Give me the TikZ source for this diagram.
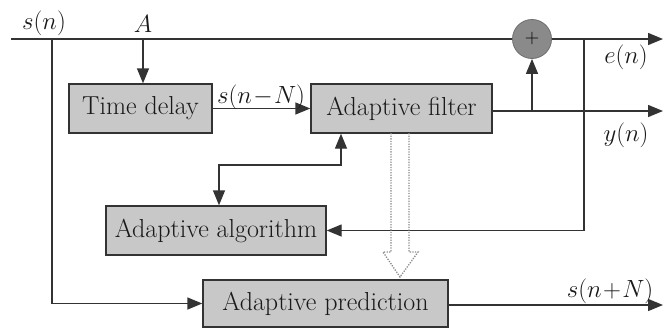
\documentclass[tikz,border=0pt]{standalone}
\usetikzlibrary{arrows.meta,calc}
\definecolor{boxfill}{HTML}{C8C8C8}
\definecolor{linec}{HTML}{333333}
\definecolor{sumfill}{HTML}{8A8A8A}
\definecolor{dotc}{HTML}{8C8C8C}
\begin{document}
\begin{tikzpicture}[x=1pt,y=-1pt,
  blk/.style={draw=linec,line width=1.4pt,fill=boxfill,minimum height=49pt,inner sep=0pt,text=black!90,font=\rmfamily\fontsize{26}{30}\selectfont},
  conn/.style={draw=linec,line width=1.4pt},
  arr/.style={conn,-{Triangle[length=15pt,width=12pt]}},
  lbl/.style={font=\rmfamily\fontsize{24}{28}\selectfont,inner sep=0pt,text=black!90}]
\useasboundingbox (0,0) rectangle (663,332);
\fill[white] (0,0) rectangle (663,332);
% blocks
\node[blk,minimum width=143pt] (td) at (140.5,108.5) {Time delay};
\node[blk,minimum width=181pt] (af) at (401.5,108.5) {Adaptive filter};
\node[blk,minimum width=220pt] (aa) at (216,230.5) {Adaptive algorithm};
\node[blk,minimum width=245pt,minimum height=47pt] (ap) at (325.5,303.5) {Adaptive prediction};
\node[circle,draw=sumfill!80!black,line width=0.8pt,fill=sumfill,minimum size=39pt,inner sep=0pt,font=\rmfamily\fontsize{20}{22}\selectfont] (sum) at (532,39) {+};
% coordinates
\coordinate (in) at (11,39);
\coordinate (sj) at (52,39);
\coordinate (aj) at (143,39);
\coordinate (fj) at (584,39);
\coordinate (eout) at (663,39);
\coordinate (yj) at (532,111);
\coordinate (yout) at (663,111);
\coordinate (dk) at (341,165);
\coordinate (apout) at (663,305);
% connectors
\draw[conn] (in) -- (sum.west);
\draw[arr] (sum.east) -- (eout);
\draw[arr] (aj) -- (aj |- td.north);
\draw[arr] (sj) |- (ap.west);
\draw[arr] (td.east) -- (af.west);
\draw[arr] (af.east |- yj) -- (yout);
\draw[arr] (yj) -- (sum.south);
\draw[arr] (fj) |- (aa.east);
\draw[conn,{Triangle[length=15pt,width=12pt]}-{Triangle[length=15pt,width=12pt]}] ([xshift=3pt]aa.north) |- (dk) -- (dk |- af.south);
\draw[arr] (ap.east |- apout) -- (apout);
% hollow dotted arrow
\draw[dotc,line width=1.3pt,dash pattern=on 1.3pt off 1.3pt] (391,133) -- (391,252) -- (383,252) -- (400,277) -- (418,252) -- (409,252) -- (409,133);
% labels
\node[lbl] (lsn) at (44,23) {$s(n)$};
\node[lbl] (lA) at (143,24) {$A$};
\node[lbl] (lsnN) at (261,97) {$s(n\!-\!N)$};
\node[lbl] (len) at (626,57) {$e(n)$};
\node[lbl] (lyn) at (626,135) {$y(n)$};
\node[lbl] (lsnpN) at (610,291) {$s(n\!+\!N)$};
\end{tikzpicture}
\end{document}
